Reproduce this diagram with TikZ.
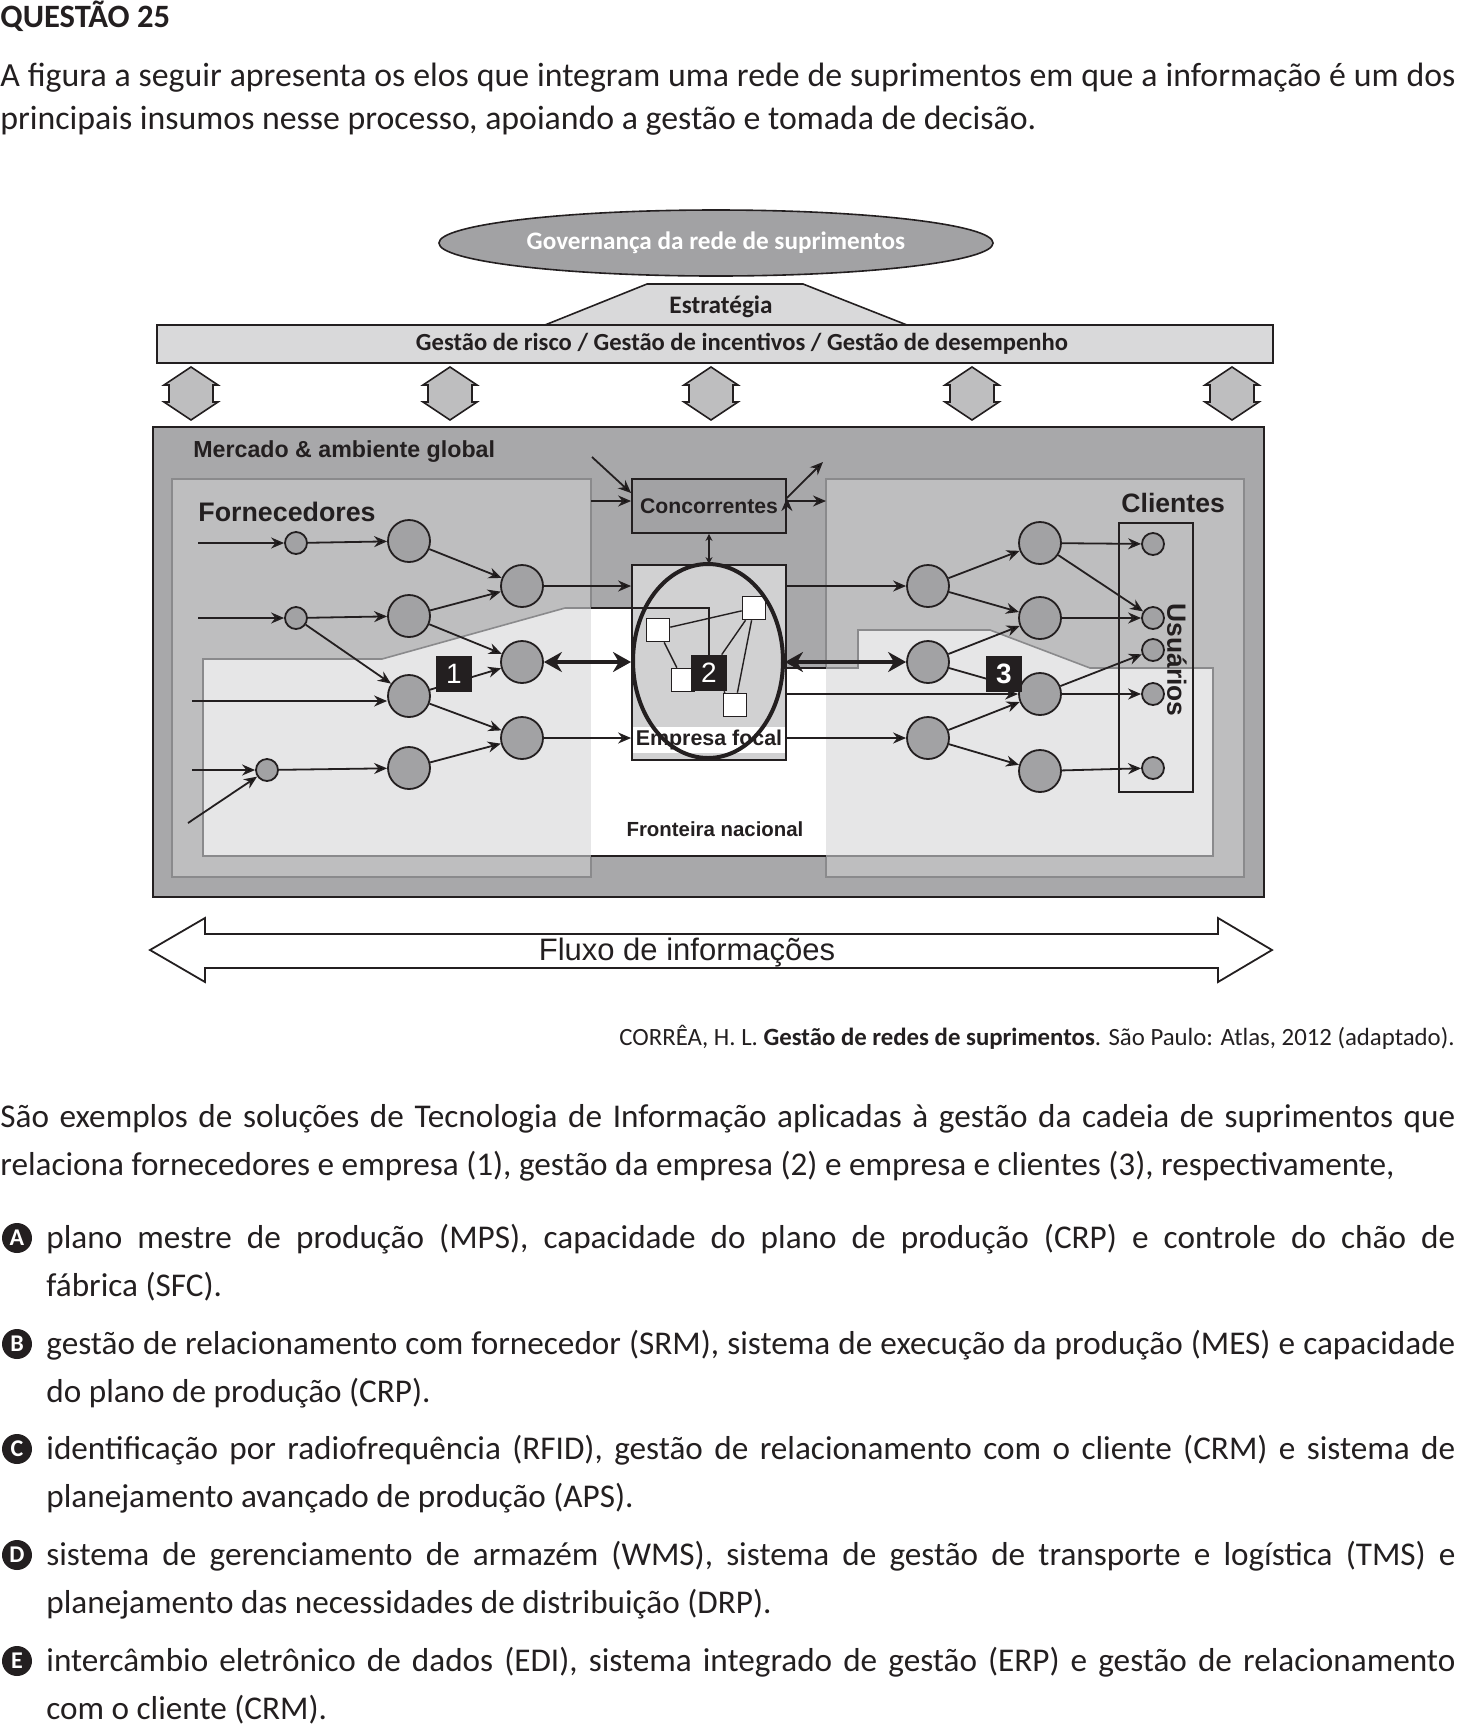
\documentclass[tikz,border=0pt]{standalone}
\usepackage{fontspec}
\setmainfont{Carlito}
\newfontfamily\arial{Liberation Sans}
\usetikzlibrary{arrows.meta,positioning,shapes.geometric}
\hyphenpenalty=10000
\exhyphenpenalty=10000
\definecolor{tinta}{RGB}{35,31,32}
\definecolor{mercado}{RGB}{168,168,170}
\definecolor{painel}{RGB}{190,190,191}
\definecolor{claro}{RGB}{230,230,231}
\definecolor{barra}{RGB}{217,217,218}
\definecolor{escuro}{RGB}{162,162,164}
\definecolor{borda}{RGB}{138,138,140}
\definecolor{focal}{RGB}{209,209,210}
\tikzset{
    %Define standard arrow tip
    >={Stealth[length=6.5pt,width=5.5pt]},
    %Define style for circles
    elo/.style={
           circle,
           draw=tinta, line width=0.9pt,
           fill=escuro,
           minimum size=21pt,
           inner sep=0pt},
    elopequeno/.style={elo, minimum size=11pt},
    %squares inside the focal company
    quadrado/.style={
           rectangle,
           draw=tinta, line width=0.8pt,
           fill=white,
           minimum size=11.5pt,
           inner sep=0pt},
    numero/.style={
           rectangle,
           fill=tinta,
           text=white,
           minimum size=18pt,
           inner sep=0pt,
           font=\arial\fontsize{14}{14}\selectfont},
    % Define arrow style
    seta/.style={->, draw=tinta, line width=0.9pt},
    setagrossa/.style={
           {Stealth[length=9pt,width=10pt]}-{Stealth[length=9pt,width=10pt]},
           draw=tinta, line width=2pt},
    duplaseta/.style={draw=tinta, line width=0.8pt, fill=painel},
    rotulo/.style={text=tinta, inner sep=0pt,
           font=\arial\bfseries\fontsize{#1}{#1}\selectfont},
    texto/.style={text=tinta, inner sep=0pt, anchor=base west, align=justify,
           font=\fontsize{16.6}{24.2}\selectfont},
    letra/.style={circle, fill=tinta, text=white, minimum size=15pt, inner sep=0pt,
           font=\bfseries\fontsize{12}{12}\selectfont}
}
\begin{document}
\begin{tikzpicture}[x=0.5pt,y=-0.5pt]
\useasboundingbox (0,0) rectangle (1457,1726);

 %question
\node[texto, font=\bfseries\fontsize{16.3}{16.3}\selectfont] (titulo) at (0,27) {QUESTÃO 25};
\node[texto, text width=727.5pt, font=\fontsize{16.9}{21.5}\selectfont] (enunciado) at (0,86)
  {A figura a seguir apresenta os elos que integram uma rede de suprimentos em que a informação é um dos\linebreak principais insumos nesse processo, apoiando a gestão e tomada de decisão.};

 %governance
\node[ellipse, draw=tinta, line width=0.8pt, fill=escuro, minimum width=271pt, minimum height=33pt,
      text=white, font=\bfseries\fontsize{12.6}{12.6}\selectfont] (governanca) at (716,243) {Governança da rede de suprimentos};
\draw[tinta, line width=0.8pt, fill=barra] (545,325) -- (647,284) -- (803,284) -- (907,325);
\node[text=tinta, inner sep=0pt, font=\bfseries\fontsize{12.6}{12.6}\selectfont] (estrategia) at (721,307) {Estratégia};
\node[rectangle, draw=tinta, line width=1pt, fill=barra, minimum width=558pt, minimum height=19pt] (gestao) at (715,344) {};
\node[text=tinta, inner sep=0pt, font=\bfseries\fontsize{12.3}{12.3}\selectfont] (gestaotxt) at (742,344)
  {Gestão de risco / Gestão de incentivos / Gestão de desempenho};
\foreach \x in {191,450,711,972,1232}
  \draw[duplaseta] (\x,367) -- ++(-27,18) -- ++(5,0) -- ++(0,17) -- ++(-5,0) -- ++(27,18)
     -- ++(27,-18) -- ++(-5,0) -- ++(0,-17) -- ++(5,0) -- cycle;

 %market, suppliers and clients
\draw[tinta, line width=1pt, fill=mercado] (153,427) rectangle (1264,897);
\draw[borda, line width=0.8pt, fill=painel] (172,479) rectangle (591,877);
\draw[borda, line width=0.8pt, fill=painel] (826,479) rectangle (1244,877);
 %national frontier
\fill[claro] (203,856) -- (203,659) -- (382,659) -- (565,608) -- (591,608) -- (591,856) -- cycle;
\fill[white] (591,856) -- (591,608) -- (708,608) -- (708,668) -- (826,668) -- (826,856) -- cycle;
\fill[claro] (826,856) -- (826,668) -- (858,668) -- (858,630) -- (990,630) -- (1090,668) -- (1213,668) -- (1213,856) -- cycle;
\draw[borda, line width=0.8pt] (591,856) -- (203,856) -- (203,659) -- (382,659) -- (565,608) -- (591,608);
\draw[borda, line width=0.8pt] (826,668) -- (858,668) -- (858,630) -- (990,630) -- (1090,668) -- (1213,668) -- (1213,856) -- (826,856);
\draw[tinta, line width=0.8pt] (591,856) -- (826,856) (786,668) -- (826,668);

 %focal company
\node[rectangle, draw=tinta, line width=0.9pt, fill=escuro, minimum width=77pt, minimum height=27pt, rotulo=10.6] (concorrentes) at (709,506) {Concorrentes};
\node[rectangle, draw=tinta, line width=0.9pt, fill=focal, minimum width=77pt, minimum height=97.5pt] (focal) at (709,662.5) {};
\node[fill=white, minimum width=76pt, minimum height=13pt, rotulo=10.7] (empresa) at (709,740) {Empresa focal};
\node[quadrado] (q1) at (658,630) {};
\node[quadrado] (q2) at (754,608) {};
\node[quadrado] (q3) at (683,680) {};
\node[quadrado] (q4) at (735,705) {};
\node[numero] (nr2) at (709,673) {2};
\draw[tinta, line width=0.7pt] (q1) -- (q2) (q1) -- (q3) (q2) -- (nr2) (q2) -- (q4) (nr2) -- (q4);
\draw[tinta, line width=0.8pt] (591,608) -- (nr2.north |- 591,608) -- (nr2.north);
\node[ellipse, draw=tinta, line width=2pt, minimum width=75pt, minimum height=97pt] (nucleo) at (708,661) {};

 %suppliers
\node[elopequeno] (a1) at (296,543) {};
\node[elopequeno] (a2) at (296,618) {};
\node[elopequeno] (a3) at (267,770) {};
\node[elo] (b1) at (409,541) {};
\node[elo] (b2) at (409,616) {};
\node[elo] (b3) at (409,696) {};
\node[elo] (b4) at (409,768) {};
\node[elo] (c1) at (522,586) {};
\node[elo] (c2) at (522,662) {};
\node[elo] (c3) at (522,738) {};
\coordinate (in1) at (198,543);
\coordinate (in2) at (198,618);
\coordinate (in3) at (192,701);
\coordinate (in4) at (192,770);
\coordinate (in5) at (188,823);

 %clients
\node[elo] (r1) at (928,586) {};
\node[elo] (r2) at (928,662) {};
\node[elo] (r3) at (928,738) {};
\node[elo] (s1) at (1040,543) {};
\node[elo] (s2) at (1040,618) {};
\node[elo] (s3) at (1040,694) {};
\node[elo] (s4) at (1040,771) {};
\node[draw=tinta, line width=0.9pt, minimum width=37pt, minimum height=134.5pt, inner sep=0pt] (usuarios) at (1156,657.5) {};
\node[elopequeno] (u1) at (1153,544) {};
\node[elopequeno] (u2) at (1153,618) {};
\node[elopequeno] (u3) at (1153,650) {};
\node[elopequeno] (u4) at (1153,694) {};
\node[elopequeno] (u5) at (1153,768) {};

 %competitors
\coordinate (kin1) at (592,457);
\coordinate (kin2) at (591,501);
\coordinate (kout1) at (823,462);
\coordinate (kout2) at (826,501);

 \path[seta]
    (in1) edge (a1)
    (a1) edge (b1)
    (in2) edge (a2)
    (a2) edge (b2)
         edge (b3)
    (in3) edge (in3 -| b3.west)
    (in4) edge (a3)
    (in5) edge (a3)
    (a3) edge (b4)
    (b1) edge (c1)
    (b2) edge (c1)
         edge (c2)
    (b3) edge (c2)
         edge (c3)
    (b4) edge (c3)
    (c1) edge (c1 -| focal.west)
    (c3) edge (c3 -| focal.west)
    (r1 -| focal.east) edge (r1)
    (s3 -| focal.east) edge (s3)
    (r3 -| focal.east) edge (r3)
    (r1) edge (s1)
         edge (s2)
    (r2) edge (s2)
         edge (s3)
    (r3) edge (s3)
         edge (s4)
    (s1) edge (u1)
         edge (u2)
    (s2) edge (u2)
    (s3) edge (u3)
         edge (u4)
    (s4) edge (u5)
    (kin1) edge ([yshift=6.5pt]concorrentes.west)
    (kin2) edge (kin2 -| concorrentes.west)
    (concorrentes.east |- kout2) edge (kout2)
    ([yshift=4pt]concorrentes.east) edge (kout1);
\draw[{Stealth[length=3.5pt,width=3.5pt]}-{Stealth[length=3.5pt,width=3.5pt]}, tinta, line width=0.7pt] (concorrentes.south) -- (focal.north);
\draw[setagrossa] (c2) -- (c2 -| nucleo.west);
\draw[setagrossa] (r2 -| nucleo.east) -- (r2);
\node[numero] (nr1) at (454,674) {1};
\node[numero, font=\arial\bfseries\fontsize{14}{14}\selectfont] (nr3) at (1004,674) {3};

 %labels
\node[rotulo=11.6, anchor=base west] (mercado) at (193,457) {Mercado \& ambiente global};
\node[rotulo=13.4, anchor=base west] (fornecedores) at (198,521) {Fornecedores};
\node[rotulo=13.3, anchor=base west] (clientes) at (1121,512) {Clientes};
\node[rotulo=10.2] (fronteira) at (715,829) {Fronteira nacional};
\node[rotulo=13.2, rotate=-90] (usuariostxt) at (1177,660) {Usuários};

 %information flow
\draw[tinta, line width=0.9pt] (150,950) -- (205,918) -- (205,934) -- (1218,934) -- (1218,918) -- (1272,950)
   -- (1218,982) -- (1218,968) -- (205,968) -- (205,982) -- cycle;
\node[text=tinta, inner sep=0pt, font=\arial\fontsize{15.5}{15.5}\selectfont] (fluxo) at (687,953) {Fluxo de informações};

\node[anchor=base east, text=tinta, inner sep=0pt, font=\fontsize{12.4}{12.4}\selectfont] (fonte) at (1455,1045)
  {CORRÊA, H. L. \textbf{Gestão de redes de suprimentos}. São Paulo: Atlas, 2012 (adaptado).};

 %alternatives
\node[texto, text width=727.5pt] (pergunta) at (0,1127)
  {São exemplos de soluções de Tecnologia de Informação aplicadas à gestão da cadeia de suprimentos que\linebreak relaciona fornecedores e empresa (1), gestão da empresa (2) e empresa e clientes (3), respectivamente,};
\node[texto, text width=704.5pt] (altA) at (46,1248)
  {plano mestre de produção (MPS), capacidade do plano de produção (CRP) e controle do chão de\linebreak fábrica (SFC).};
\node[texto, text width=704.5pt] (altB) at (46,1354)
  {gestão de relacionamento com fornecedor (SRM), sistema de execução da produção (MES) e capacidade\linebreak do plano de produção (CRP).};
\node[texto, text width=704.5pt] (altC) at (46,1459)
  {identificação por radiofrequência (RFID), gestão de relacionamento com o cliente (CRM) e sistema de\linebreak planejamento avançado de produção (APS).};
\node[texto, text width=704.5pt] (altD) at (46,1565)
  {sistema de gerenciamento de armazém (WMS), sistema de gestão de transporte e logística (TMS) e\linebreak planejamento das necessidades de distribuição (DRP).};
\node[texto, text width=704.5pt] (altE) at (46,1671)
  {intercâmbio eletrônico de dados (EDI), sistema integrado de gestão (ERP) e gestão de relacionamento\linebreak com o cliente (CRM).};
\node[letra] (letraA) at (17,1238) {A};
\node[letra] (letraB) at (17,1344) {B};
\node[letra] (letraC) at (17,1449) {C};
\node[letra] (letraD) at (17,1555) {D};
\node[letra] (letraE) at (17,1661) {E};
\end{tikzpicture}
\end{document}
